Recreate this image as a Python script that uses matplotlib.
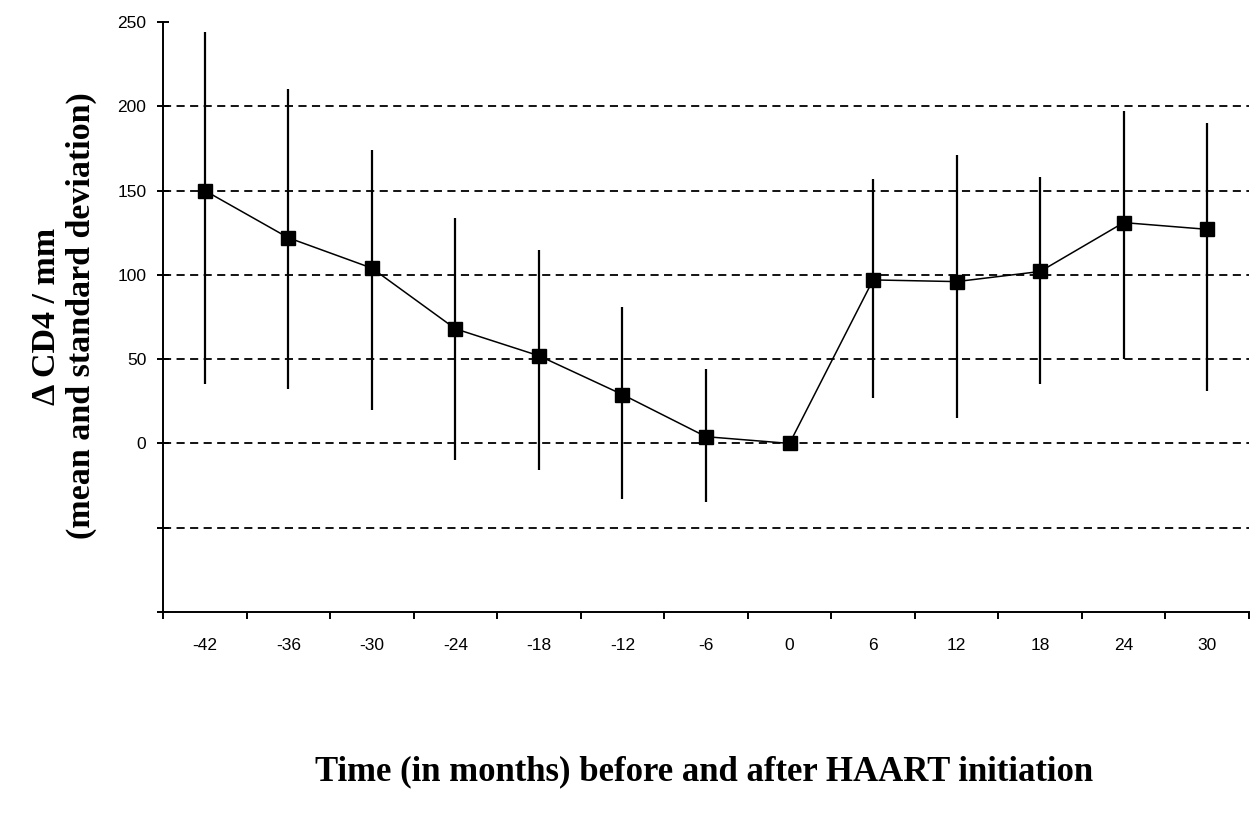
import matplotlib
matplotlib.use("Agg")
import matplotlib.pyplot as plt
from matplotlib.ticker import FixedLocator
import numpy as np

months = [-42, -36, -30, -24, -18, -12, -6, 0, 6, 12, 18, 24, 30]
mean_cd4 = [150, 122, 104, 68, 52, 29, 4, 0, 97, 96, 102, 131, 127]
upper_sd = [244, 210, 174, 134, 115, 81, 44, 0, 157, 171, 158, 197, 190]
lower_sd = [35, 32, 20, -10, -16, -33, -35, 0, 27, 15, 35, 50, 31]
y_ticks = [-100, -50, 0, 50, 100, 150, 200, 250]
y_tick_labels = ["", "", "0", "50", "100", "150", "200", "250"]
grid_levels = [-50, 0, 50, 100, 150, 200]

W, H = 1253, 818
fig = plt.figure(figsize=(W / 100, H / 100), dpi=100)
ax = fig.add_axes([163 / W, 1 - 612 / H, (1249 - 163) / W, (612 - 22) / H])

x = np.arange(len(months))
for g in grid_levels:
    ax.axhline(g, color="black", lw=1.3, linestyle=(0, (4.5, 3)), zorder=1)

mean = np.array(mean_cd4, dtype=float)
yerr = np.vstack([mean - np.array(lower_sd), np.array(upper_sd) - mean])
ax.errorbar(x, mean, yerr=yerr, fmt="none", ecolor="black", elinewidth=1.6,
            capsize=0, zorder=2)
ax.plot(x, mean, color="black", lw=1.1, marker="s", markersize=9.5,
        markerfacecolor="black", markeredgecolor="black", zorder=3)

ax.set_xlim(-0.5, len(months) - 0.5)
ax.set_ylim(-100, 250)

ax.spines["top"].set_visible(False)
ax.spines["right"].set_visible(False)
ax.spines["left"].set_linewidth(1.4)
ax.spines["bottom"].set_linewidth(1.4)

ax.set_xticks(x)
ax.set_xticklabels([str(m) for m in months], fontsize=12.5,
                   family="Liberation Sans")
ax.xaxis.set_minor_locator(FixedLocator(np.arange(-0.5, len(months), 1.0)))
ax.tick_params(axis="x", which="major", length=0, pad=19)
ax.tick_params(axis="x", which="minor", length=5, width=1.4, direction="out")

ax.set_yticks(y_ticks)
ax.set_yticklabels(y_tick_labels, fontsize=12.5, family="Liberation Sans")
ax.tick_params(axis="y", which="major", length=8, width=1.4,
               direction="inout", pad=8)

fig.text(64 / W, 1 - 316 / H, "Δ CD4 / mm\n(mean and standard deviation)",
         rotation=90, ha="center", va="center", fontsize=24.5,
         family="Liberation Serif", fontweight="bold", linespacing=1.15)
fig.text(704 / W, 1 - 772 / H,
         "Time (in months) before and after HAART initiation",
         ha="center", va="center", fontsize=25,
         family="Liberation Serif", fontweight="bold")

fig.savefig("out.png", dpi=100)
